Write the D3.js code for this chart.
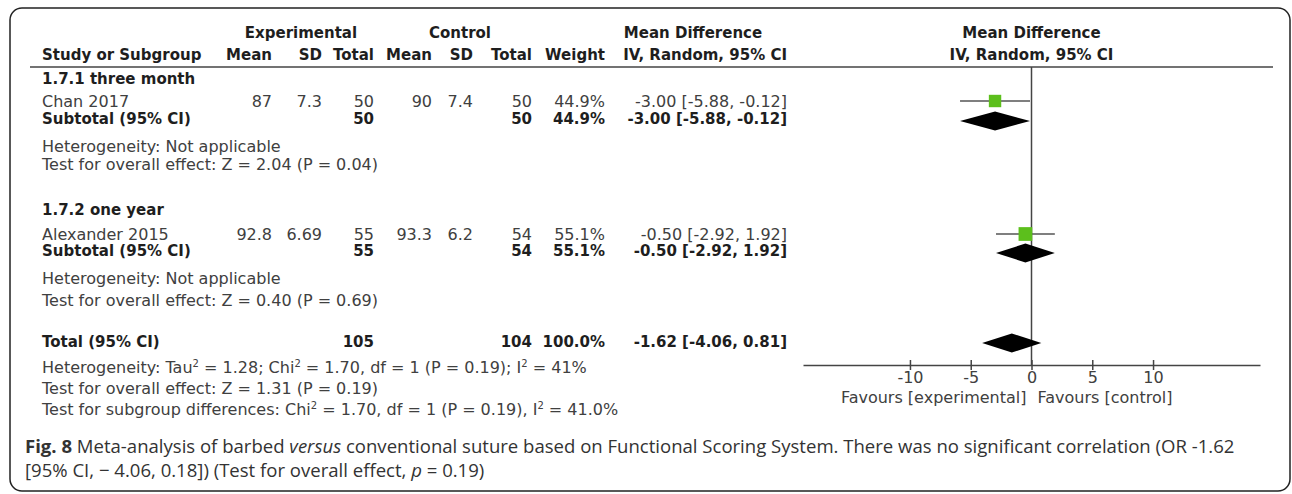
<!DOCTYPE html>
<html>
<head>
<meta charset="utf-8">
<script src="https://cdn.jsdelivr.net/npm/d3@7"></script>
<style>
  body { margin: 0; background: #fff; }
  svg text { font-family: "DejaVu Sans", sans-serif; font-size: 16px; fill: #404040; }
  svg text.b { font-weight: bold; font-size: 15px; fill: #1e1e1e; }
  svg text.cap { font-family: "Open Sans", sans-serif; font-size: 18px; fill: #333; }
</style>
</head>
<body>
<svg width="1292" height="494"></svg>
<script>
// ---- data ----
const groups = ["1.7.1 three month", "1.7.2 one year"];
const studies = ["Chan 2017", "Alexander 2015"];
const expMean = [87, 92.8];
const expSD = [7.3, 6.69];
const expN = [50, 55];
const ctlMean = [90, 93.3];
const ctlSD = [7.4, 6.2];
const ctlN = [50, 54];
const weights = [44.9, 55.1];
const md = [-3.00, -0.50];
const mdLo = [-5.88, -2.92];
const mdHi = [-0.12, 1.92];
const groupTests = ["Test for overall effect: Z = 2.04 (P = 0.04)", "Test for overall effect: Z = 0.40 (P = 0.69)"];
const totalN = [105, 104];
const totalMd = [-1.62, -4.06, 0.81];
const tickVals = [-10, -5, 0, 5, 10];

const svg = d3.select("svg");

// column right edges
const col = {expMean: 272, expSD: 322, expN: 374, ctlMean: 432, ctlSD: 473, ctlN: 532, weight: 605, md: 787};
const left = 42;

// rows (vertical centres)
const rowY = {h1: 33, h2: 55, line: 67, group: [79, 210], study: [102, 235], sub: [119, 251],
              het: [147, 279], test: [165, 301], tot: 342, hetT: 368, testT: 389, testSub: 410, axis: 365};

function txt(x, y, s, anchor, bold) {
  return svg.append("text")
    .attr("x", x).attr("y", y + 5)
    .attr("text-anchor", anchor || "start")
    .attr("class", bold ? "b" : null)
    .text(s);
}
const fmt = v => v.toFixed(2);
const ci = (m, lo, hi) => `${fmt(m)} [${fmt(lo)}, ${fmt(hi)}]`;

// frame
svg.append("rect")
  .attr("x", 10).attr("y", 8).attr("width", 1280).attr("height", 483)
  .attr("rx", 12).attr("fill", "none").attr("stroke", "#222").attr("stroke-width", 1.5);

// headers
txt((col.expMean + col.expN) / 2 - 22, rowY.h1, "Experimental", "middle", true);
txt((col.ctlMean + col.ctlN) / 2 - 22, rowY.h1, "Control", "middle", true);
txt(693, rowY.h1, "Mean Difference", "middle", true);
txt(left, rowY.h2, "Study or Subgroup", "start", true);
txt(col.expMean, rowY.h2, "Mean", "end", true);
txt(col.expSD, rowY.h2, "SD", "end", true);
txt(col.expN, rowY.h2, "Total", "end", true);
txt(col.ctlMean, rowY.h2, "Mean", "end", true);
txt(col.ctlSD, rowY.h2, "SD", "end", true);
txt(col.ctlN, rowY.h2, "Total", "end", true);
txt(col.weight, rowY.h2, "Weight", "end", true);
txt(col.md, rowY.h2, "IV, Random, 95% CI", "end", true);

// forest plot scale
const x = d3.scaleLinear().domain([-18.8, 18.8]).range([803, 1260]);
txt(x(0), rowY.h1, "Mean Difference", "middle", true);
txt(x(0), rowY.h2, "IV, Random, 95% CI", "middle", true);

svg.append("line")
  .attr("x1", 30).attr("x2", 1273).attr("y1", rowY.line).attr("y2", rowY.line)
  .attr("stroke", "#444").attr("stroke-width", 1.5);

// zero line
svg.append("line")
  .attr("x1", x(0)).attr("x2", x(0)).attr("y1", rowY.line).attr("y2", rowY.axis)
  .attr("stroke", "#444").attr("stroke-width", 1.5);

// subgroup blocks
groups.forEach((g, i) => {
  txt(left, rowY.group[i], g, "start", true);
  const y = rowY.study[i];
  txt(left, y, studies[i]);
  txt(col.expMean, y, String(expMean[i]), "end");
  txt(col.expSD, y, String(expSD[i]), "end");
  txt(col.expN, y, String(expN[i]), "end");
  txt(col.ctlMean, y, String(ctlMean[i]), "end");
  txt(col.ctlSD, y, String(ctlSD[i]), "end");
  txt(col.ctlN, y, String(ctlN[i]), "end");
  txt(col.weight, y, weights[i].toFixed(1) + "%", "end");
  txt(col.md, y, ci(md[i], mdLo[i], mdHi[i]), "end");

  const ys = rowY.sub[i];
  txt(left, ys, "Subtotal (95% CI)", "start", true);
  txt(col.expN, ys, String(expN[i]), "end", true);
  txt(col.ctlN, ys, String(ctlN[i]), "end", true);
  txt(col.weight, ys, weights[i].toFixed(1) + "%", "end", true);
  txt(col.md, ys, ci(md[i], mdLo[i], mdHi[i]), "end", true);

  txt(left, rowY.het[i], "Heterogeneity: Not applicable");
  txt(left, rowY.test[i], groupTests[i]);
});

// total row
txt(left, rowY.tot, "Total (95% CI)", "start", true);
txt(col.expN, rowY.tot, String(totalN[0]), "end", true);
txt(col.ctlN, rowY.tot, String(totalN[1]), "end", true);
txt(col.weight, rowY.tot, "100.0%", "end", true);
txt(col.md, rowY.tot, ci(totalMd[0], totalMd[1], totalMd[2]), "end", true);

// lines with superscripts (the shift is undone on the next piece of text)
function supLine(y, parts) {
  const t = svg.append("text").attr("x", left).attr("y", y + 5);
  let back = 0;
  parts.forEach(p => {
    if (typeof p === "object") {
      t.append("tspan").attr("dy", -6).style("font-size", "10px").text(p.sup);
      back = 6;
    } else {
      t.append("tspan").attr("dy", back).text(p);
      back = 0;
    }
  });
}
supLine(rowY.hetT, ["Heterogeneity: Tau", {sup: "2"}, " = 1.28; Chi", {sup: "2"},
  " = 1.70, df = 1 (P = 0.19); I", {sup: "2"}, " = 41%"]);
txt(left, rowY.testT, "Test for overall effect: Z = 1.31 (P = 0.19)");
supLine(rowY.testSub, ["Test for subgroup differences: Chi", {sup: "2"},
  " = 1.70, df = 1 (P = 0.19), I", {sup: "2"}, " = 41.0%"]);

// study CIs and squares
const size = d3.scaleSqrt().domain([0, 100]).range([0, 18.5]);
const plot = svg.append("g");
studies.forEach((s, i) => {
  const y = rowY.study[i] - 1;
  plot.append("line")
    .attr("x1", x(mdLo[i])).attr("x2", x(mdHi[i])).attr("y1", y).attr("y2", y)
    .attr("stroke", "#555").attr("stroke-width", 1.5);
  const w = size(weights[i]);
  plot.append("rect")
    .attr("x", x(md[i]) - w / 2).attr("y", y - w / 2)
    .attr("width", w).attr("height", w)
    .attr("fill", "#5cbf1c");
});

// diamonds
function diamond(y, m, lo, hi) {
  plot.append("path")
    .attr("d", `M${x(lo)},${y}L${x(m)},${y - 9.5}L${x(hi)},${y}L${x(m)},${y + 9.5}Z`)
    .attr("fill", "#000");
}
groups.forEach((g, i) => diamond(rowY.sub[i] + 2, md[i], mdLo[i], mdHi[i]));
diamond(rowY.tot + 1, totalMd[0], totalMd[1], totalMd[2]);

// axis
const ax = svg.append("g")
  .attr("transform", `translate(0,${rowY.axis})`)
  .call(d3.axisBottom(x).tickValues(tickVals).tickSizeOuter(0).tickFormat(d => String(d)));
ax.select(".domain").attr("stroke", "#444").attr("stroke-width", 1.5);
ax.selectAll(".tick line").attr("y1", -5).attr("y2", 5).attr("stroke", "#444").attr("stroke-width", 1.5);
ax.selectAll(".tick text")
  .attr("y", 7).attr("dy", "0.71em")
  .style("font-family", "DejaVu Sans, sans-serif").style("font-size", "16px").attr("fill", "#404040");

txt(x(0) - 5, 398, "Favours [experimental]", "end");
txt(x(0) + 6, 398, "Favours [control]", "start");

// caption, sized so the first line runs to the same width as the figure
const cap1 = svg.append("text").attr("class", "cap").attr("x", 25).attr("y", 453);
cap1.append("tspan").style("font-weight", "bold").text("Fig. 8");
cap1.append("tspan").text(" Meta-analysis of barbed ");
cap1.append("tspan").style("font-style", "italic").text("versus");
cap1.append("tspan").text(" conventional suture based on Functional Scoring System. There was no significant correlation (OR -1.62");
const cap2 = svg.append("text").attr("class", "cap").attr("x", 25).attr("y", 477);
cap2.append("tspan").text("[95% CI, \u2212 4.06, 0.18]) (Test for overall effect, ");
cap2.append("tspan").style("font-style", "italic").text("p");
cap2.append("tspan").text(" = 0.19)");
const capSize = 18 * 1210 / cap1.node().getComputedTextLength();
cap1.style("font-size", capSize + "px");
cap2.style("font-size", capSize + "px");
</script>
</body>
</html>
